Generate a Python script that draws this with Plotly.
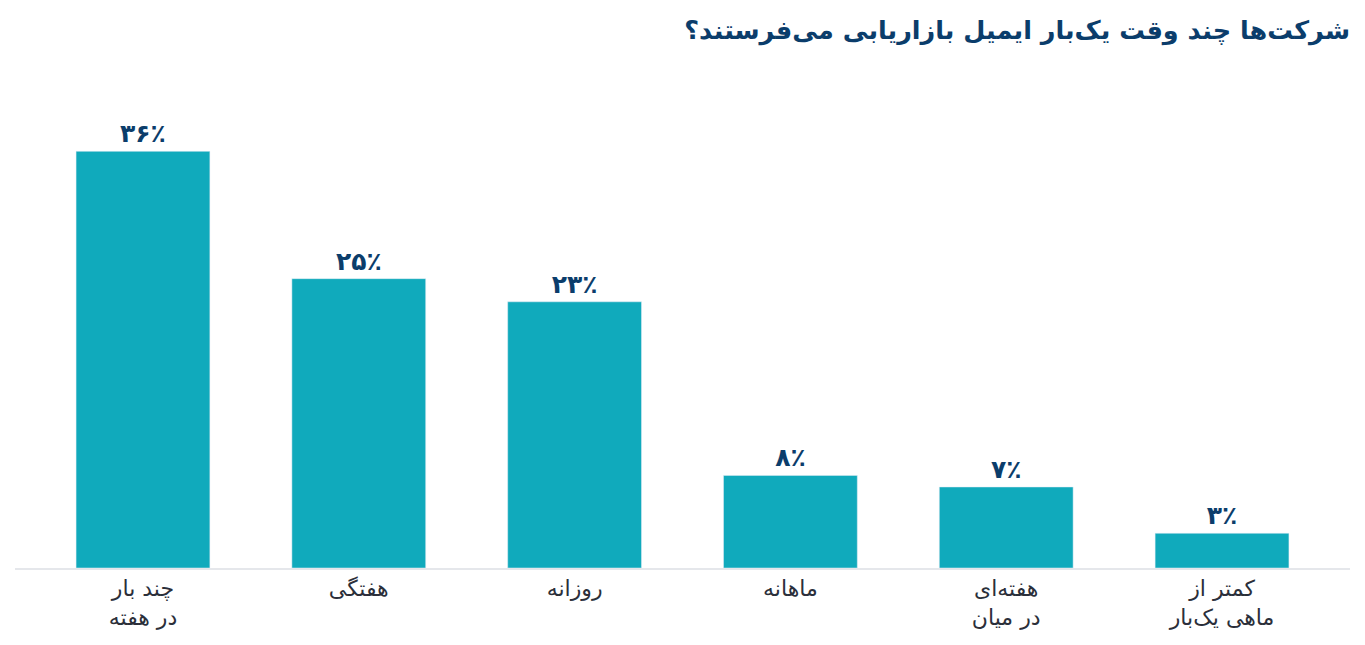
import plotly.graph_objects as go

# frequency of marketing emails
categories = ["چند بار<br>در هفته", "هفتگی", "روزانه", "ماهانه", "هفته‌ای<br>در میان", "کمتر از<br>ماهی یک‌بار"]
shares = [36, 25, 23, 8, 7, 3]

FA_DIGITS = str.maketrans("0123456789", "۰۱۲۳۴۵۶۷۸۹")
labels = ["<b>" + f"{v}".translate(FA_DIGITS) + "٪</b>" for v in shares]

BAR = "#10aabc"
NAVY = "#0b3d6b"

fig = go.Figure(go.Bar(
    x=categories,
    y=shares,
    text=labels,
    textposition="outside",
    cliponaxis=False,
    textfont=dict(size=25, color=NAVY, family="DejaVu Sans"),
    marker_color=BAR,
    width=0.62,
    hoverinfo="skip",
))

# page body has an 8px margin, so the figure is a bit smaller than the window
fig.update_layout(
    width=1349, height=629,
    margin=dict(l=7, r=7, t=82, b=65),
    paper_bgcolor="white", plot_bgcolor="white",
    font=dict(family="DejaVu Sans", color="#2b2f3a"),
    showlegend=False,
    title=dict(
        text="<b>شرکت‌ها چند وقت یک‌بار ایمیل بازاریابی می‌فرستند؟</b>",
        x=1, xref="paper", xanchor="right",
        y=0.965, yref="container", yanchor="middle",
        font=dict(size=25.5, color=NAVY, family="DejaVu Sans"),
    ),
)
fig.update_xaxes(
    range=[-0.593, 5.593],
    showline=True, linecolor="#e5e7eb", linewidth=2,
    ticks="", tickfont=dict(size=22, color="#2b2f3a"),
    showgrid=False,
)
fig.update_yaxes(range=[0, 41.3], visible=False, showgrid=False)

fig.write_html("out.html")
